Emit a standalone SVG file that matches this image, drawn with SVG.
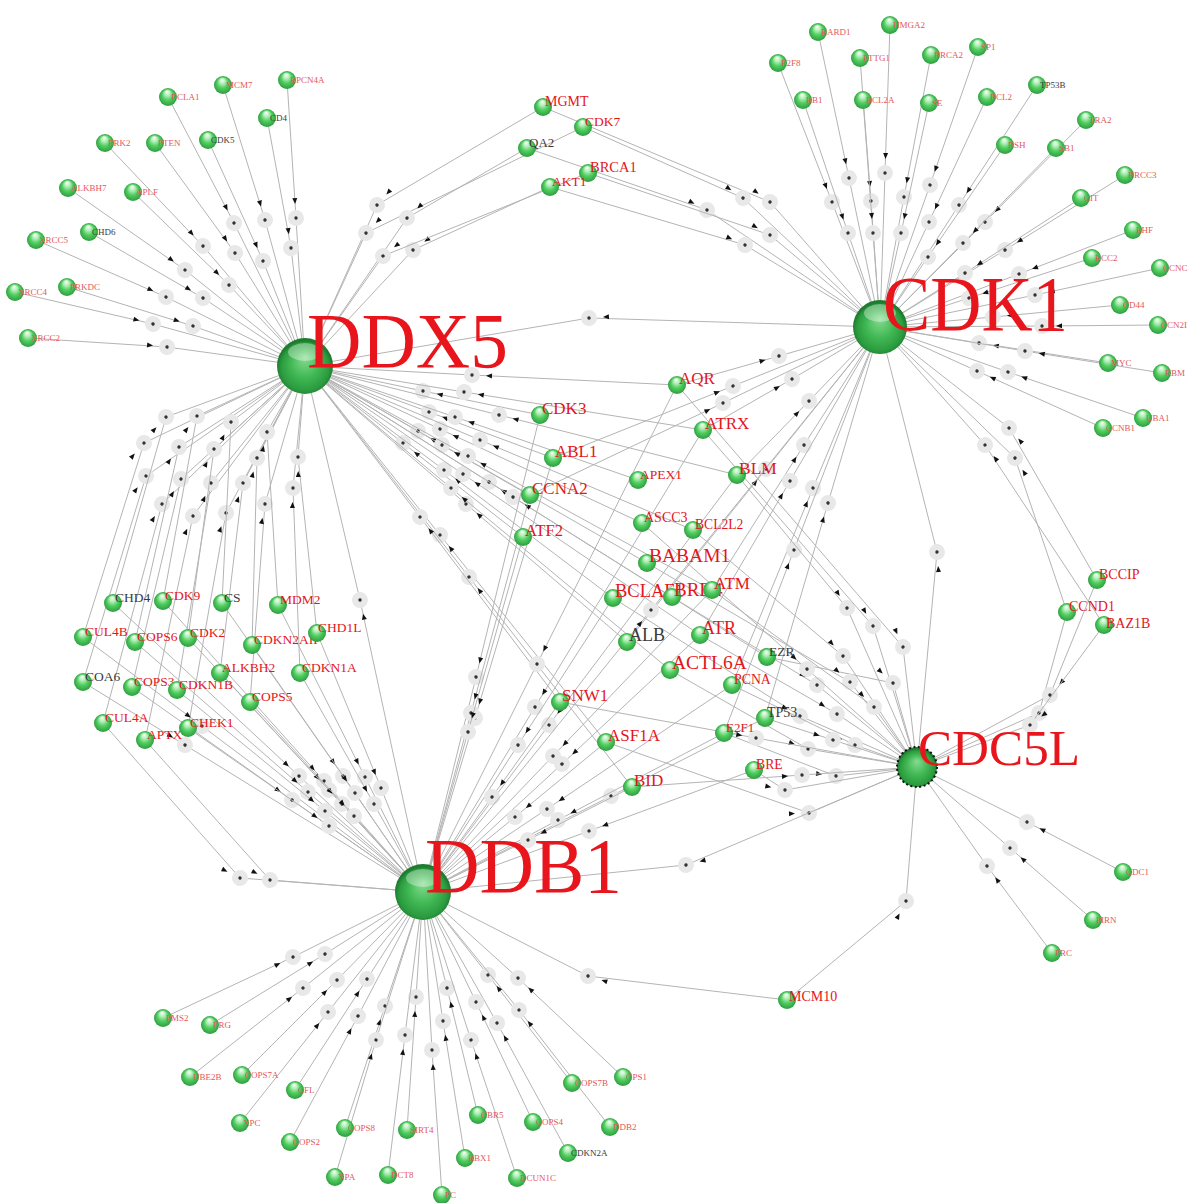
<svg xmlns="http://www.w3.org/2000/svg" width="1188" height="1203" viewBox="0 0 1188 1203">
<style>
.e{fill:none;stroke:#b4b4b4;stroke-width:1;marker-mid:url(#mk)}
.s{fill:url(#gs)}
.h{fill:url(#gh)}
.lm{font-family:"Liberation Serif",serif;fill:#e3161c}
.lp{font-family:"Liberation Serif",serif;font-size:9px;fill:#e4575a}
.dk{fill:#3a3a3a}
.hl{font-family:"Liberation Serif",serif;fill:#e8161c}
</style>
<defs>
<radialGradient id="gs" cx="0.5" cy="0.5" r="0.5" fx="0.45" fy="0.18">
<stop offset="0" stop-color="#ffffff"/>
<stop offset="0.3" stop-color="#b4efba"/>
<stop offset="0.6" stop-color="#52cf61"/>
<stop offset="1" stop-color="#2e9e40"/>
</radialGradient>
<radialGradient id="gh" cx="0.5" cy="0.55" r="0.5" fx="0.5" fy="0.35">
<stop offset="0" stop-color="#86dc90"/>
<stop offset="0.5" stop-color="#42b955"/>
<stop offset="0.85" stop-color="#2b9b3f"/>
<stop offset="1" stop-color="#1d7d2f"/>
</radialGradient>
<!-- reaction point: grey halo with centre dot, arrowhead just before it -->
<marker id="mk" markerUnits="userSpaceOnUse" markerWidth="40" markerHeight="20" refX="30" refY="10" orient="auto">
<circle cx="30" cy="10" r="8" fill="#e8e8e8"/>
<circle cx="30" cy="10" r="1.7" fill="#333"/>
<path d="M10,7.5 L16,10 L10,12.5 Z" fill="#111"/>
</marker>
</defs>
<rect width="1188" height="1203" fill="#ffffff"/>

<g id="connectors">
<!-- DDX5 outer fan -->
<path class="e" d="M168 97 L234 223 L305 366"/>
<path class="e" d="M223 85 L265 220 L305 366"/>
<path class="e" d="M287 80 L296 218 L305 366"/>
<path class="e" d="M267 118 L291 248 L305 366"/>
<path class="e" d="M105 143 L203 246 L305 366"/>
<path class="e" d="M155 143 L235 253 L305 366"/>
<path class="e" d="M208 140 L263 261 L305 366"/>
<path class="e" d="M68 188 L185 270 L305 366"/>
<path class="e" d="M133 192 L229 285 L305 366"/>
<path class="e" d="M89 232 L203 298 L305 366"/>
<path class="e" d="M36 240 L166 297 L305 366"/>
<path class="e" d="M15 292 L153 324 L305 366"/>
<path class="e" d="M67 287 L193 326 L305 366"/>
<path class="e" d="M28 338 L167 347 L305 366"/>
<!-- left cluster to DDX5 -->
<path class="e" d="M83 637 L144 443 L305 366"/>
<path class="e" d="M83 682 L146 476 L305 366"/>
<path class="e" d="M103 723 L162 504 L305 366"/>
<path class="e" d="M113 603 L166 417 L305 366"/>
<path class="e" d="M135 642 L179 447 L305 366"/>
<path class="e" d="M132 687 L181 479 L305 366"/>
<path class="e" d="M145 740 L193 516 L305 366"/>
<path class="e" d="M163 601 L197 416 L305 366"/>
<path class="e" d="M177 690 L211 483 L305 366"/>
<path class="e" d="M188 638 L214 449 L305 366"/>
<path class="e" d="M188 728 L226 513 L305 366"/>
<path class="e" d="M222 603 L231 422 L305 366"/>
<path class="e" d="M220 673 L243 483 L305 366"/>
<path class="e" d="M250 702 L265 504 L305 366"/>
<path class="e" d="M252 645 L257 458 L305 366"/>
<path class="e" d="M278 605 L267 432 L305 366"/>
<path class="e" d="M300 673 L293 488 L305 366"/>
<path class="e" d="M317 633 L298 457 L305 366"/>
<!-- left cluster to DDB1 -->
<path class="e" d="M113 603 L299 776 L423 892"/>
<path class="e" d="M163 601 L324 781 L423 892"/>
<path class="e" d="M222 603 L343 776 L423 892"/>
<path class="e" d="M278 605 L365 777 L423 892"/>
<path class="e" d="M83 637 L202 726 L423 892"/>
<path class="e" d="M135 642 L308 792 L423 892"/>
<path class="e" d="M188 638 L329 790 L423 892"/>
<path class="e" d="M252 645 L355 793 L423 892"/>
<path class="e" d="M317 633 L381 788 L423 892"/>
<path class="e" d="M83 682 L185 745 L423 892"/>
<path class="e" d="M132 687 L292 800 L423 892"/>
<path class="e" d="M177 690 L325 811 L423 892"/>
<path class="e" d="M220 673 L342 804 L423 892"/>
<path class="e" d="M300 673 L374 804 L423 892"/>
<path class="e" d="M250 702 L354 816 L423 892"/>
<path class="e" d="M103 723 L240 878 L423 892"/>
<path class="e" d="M145 740 L270 880 L423 892"/>
<path class="e" d="M188 728 L329 826 L423 892"/>
<!-- DDB1 outer fan -->
<path class="e" d="M163 1018 L293 957 L423 892"/>
<path class="e" d="M210 1025 L325 954 L423 892"/>
<path class="e" d="M190 1077 L303 988 L423 892"/>
<path class="e" d="M242 1075 L337 980 L423 892"/>
<path class="e" d="M240 1123 L328 1012 L423 892"/>
<path class="e" d="M295 1090 L367 979 L423 892"/>
<path class="e" d="M290 1142 L358 1016 L423 892"/>
<path class="e" d="M345 1128 L385 1006 L423 892"/>
<path class="e" d="M335 1177 L376 1040 L423 892"/>
<path class="e" d="M407 1130 L416 997 L423 892"/>
<path class="e" d="M388 1175 L405 1035 L423 892"/>
<path class="e" d="M442 1195 L432 1050 L423 892"/>
<path class="e" d="M478 1115 L447 988 L423 892"/>
<path class="e" d="M465 1158 L443 1021 L423 892"/>
<path class="e" d="M568 1153 L497 1023 L423 892"/>
<path class="e" d="M517 1178 L471 1040 L423 892"/>
<path class="e" d="M533 1122 L476 1002 L423 892"/>
<path class="e" d="M572 1083 L488 975 L423 892"/>
<path class="e" d="M623 1077 L518 978 L423 892"/>
<path class="e" d="M610 1127 L519 1010 L423 892"/>
<path class="e" d="M787 1000 L588 976 L423 892"/>
<!-- CDC5L outer fan -->
<path class="e" d="M1123 872 L1027 822 L917 767"/>
<path class="e" d="M1093 920 L1010 848 L917 767"/>
<path class="e" d="M1052 953 L987 866 L917 767"/>
<path class="e" d="M787 1000 L906 901 L917 767"/>
<!-- CDK1 outer fan -->
<path class="e" d="M818 32 L849 178 L880 327"/>
<path class="e" d="M890 25 L885 173 L880 327"/>
<path class="e" d="M778 63 L832 202 L880 327"/>
<path class="e" d="M860 58 L871 201 L880 327"/>
<path class="e" d="M931 55 L904 197 L880 327"/>
<path class="e" d="M978 47 L930 185 L880 327"/>
<path class="e" d="M803 100 L848 233 L880 327"/>
<path class="e" d="M863 100 L873 233 L880 327"/>
<path class="e" d="M929 103 L901 233 L880 327"/>
<path class="e" d="M987 97 L929 222 L880 327"/>
<path class="e" d="M1037 85 L959 205 L880 327"/>
<path class="e" d="M1086 120 L985 222 L880 327"/>
<path class="e" d="M1005 145 L928 257 L880 327"/>
<path class="e" d="M1056 148 L963 243 L880 327"/>
<path class="e" d="M1125 175 L1005 250 L880 327"/>
<path class="e" d="M1081 198 L965 273 L880 327"/>
<path class="e" d="M1133 230 L1019 274 L880 327"/>
<path class="e" d="M1092 258 L969 298 L880 327"/>
<path class="e" d="M1160 268 L1035 295 L880 327"/>
<path class="e" d="M1120 305 L993 317 L880 327"/>
<path class="e" d="M1158 325 L1042 326 L880 327"/>
<path class="e" d="M1108 363 L979 343 L880 327"/>
<path class="e" d="M1162 373 L1025 351 L880 327"/>
<path class="e" d="M1143 418 L1008 372 L880 327"/>
<path class="e" d="M1103 428 L977 371 L880 327"/>
<!-- shared partners to DDX5 -->
<path class="e" d="M543 107 L377 205 L305 366"/>
<path class="e" d="M583 127 L366 233 L305 366"/>
<path class="e" d="M527 148 L407 218 L305 366"/>
<path class="e" d="M550 187 L413 250 L305 366"/>
<path class="e" d="M588 173 L383 256 L305 366"/>
<path class="e" d="M677 385 L472 375 L305 366"/>
<path class="e" d="M540 415 L423 391 L305 366"/>
<path class="e" d="M703 430 L464 392 L305 366"/>
<path class="e" d="M553 458 L429 412 L305 366"/>
<path class="e" d="M737 475 L499 415 L305 366"/>
<path class="e" d="M638 480 L455 417 L305 366"/>
<path class="e" d="M530 495 L418 431 L305 366"/>
<path class="e" d="M642 523 L440 429 L305 366"/>
<path class="e" d="M693 530 L480 440 L305 366"/>
<path class="e" d="M523 537 L403 443 L305 366"/>
<path class="e" d="M647 563 L442 445 L305 366"/>
<path class="e" d="M613 598 L444 470 L305 366"/>
<path class="e" d="M672 597 L489 482 L305 366"/>
<path class="e" d="M712 590 L468 456 L305 366"/>
<path class="e" d="M627 642 L466 504 L305 366"/>
<path class="e" d="M700 635 L463 474 L305 366"/>
<path class="e" d="M767 657 L513 497 L305 366"/>
<path class="e" d="M670 670 L451 488 L305 366"/>
<path class="e" d="M606 742 L440 535 L305 366"/>
<path class="e" d="M632 787 L469 577 L305 366"/>
<path class="e" d="M560 702 L420 517 L305 366"/>
<!-- shared partners to CDK1 -->
<path class="e" d="M543 107 L770 202 L880 327"/>
<path class="e" d="M583 127 L743 198 L880 327"/>
<path class="e" d="M527 148 L707 210 L880 327"/>
<path class="e" d="M588 173 L770 235 L880 327"/>
<path class="e" d="M550 187 L745 245 L880 327"/>
<path class="e" d="M677 385 L779 356 L880 327"/>
<path class="e" d="M703 430 L792 379 L880 327"/>
<path class="e" d="M553 458 L733 386 L880 327"/>
<path class="e" d="M737 475 L809 401 L880 327"/>
<path class="e" d="M530 495 L723 403 L880 327"/>
<path class="e" d="M712 590 L804 445 L880 327"/>
<path class="e" d="M627 642 L766 469 L880 327"/>
<path class="e" d="M700 635 L790 481 L880 327"/>
<path class="e" d="M732 685 L813 488 L880 327"/>
<path class="e" d="M765 718 L828 503 L880 327"/>
<path class="e" d="M724 733 L794 550 L880 327"/>
<path class="e" d="M1067 612 L1015 458 L880 327"/>
<path class="e" d="M1097 580 L1009 428 L880 327"/>
<path class="e" d="M1104 625 L985 445 L880 327"/>
<!-- shared partners to DDB1 -->
<path class="e" d="M677 385 L537 664 L423 892"/>
<path class="e" d="M540 415 L476 677 L423 892"/>
<path class="e" d="M703 430 L535 707 L423 892"/>
<path class="e" d="M553 458 L475 718 L423 892"/>
<path class="e" d="M737 475 L549 725 L423 892"/>
<path class="e" d="M530 495 L471 713 L423 892"/>
<path class="e" d="M523 537 L468 732 L423 892"/>
<path class="e" d="M613 598 L518 745 L423 892"/>
<path class="e" d="M712 590 L553 756 L423 892"/>
<path class="e" d="M700 635 L562 764 L423 892"/>
<path class="e" d="M732 685 L547 809 L423 892"/>
<path class="e" d="M765 718 L611 796 L423 892"/>
<path class="e" d="M724 733 L558 820 L423 892"/>
<path class="e" d="M606 742 L515 817 L423 892"/>
<path class="e" d="M754 770 L589 831 L423 892"/>
<path class="e" d="M632 787 L528 840 L423 892"/>
<path class="e" d="M560 702 L492 797 L423 892"/>
<!-- shared partners to CDC5L -->
<path class="e" d="M737 475 L847 608 L917 767"/>
<path class="e" d="M703 430 L873 626 L917 767"/>
<path class="e" d="M677 385 L903 647 L917 767"/>
<path class="e" d="M693 530 L843 656 L917 767"/>
<path class="e" d="M767 657 L893 683 L917 767"/>
<path class="e" d="M647 563 L850 682 L917 767"/>
<path class="e" d="M712 590 L874 707 L917 767"/>
<path class="e" d="M672 597 L817 685 L917 767"/>
<path class="e" d="M700 635 L837 714 L917 767"/>
<path class="e" d="M613 598 L800 716 L917 767"/>
<path class="e" d="M732 685 L855 745 L917 767"/>
<path class="e" d="M670 670 L808 749 L917 767"/>
<path class="e" d="M724 733 L836 776 L917 767"/>
<path class="e" d="M765 718 L833 740 L917 767"/>
<path class="e" d="M754 770 L785 790 L917 767"/>
<path class="e" d="M606 742 L809 813 L917 767"/>
<path class="e" d="M632 787 L802 775 L917 767"/>
<path class="e" d="M560 702 L756 738 L917 767"/>
<path class="e" d="M642 523 L807 669 L917 767"/>
<path class="e" d="M1067 612 L1039 713 L917 767"/>
<path class="e" d="M1097 580 L1050 695 L917 767"/>
<path class="e" d="M1104 625 L1030 725 L917 767"/>
<!-- hub to hub -->
<path class="e" d="M880 327 L589 318 L305 366"/>
<path class="e" d="M917 767 L937 552 L880 327"/>
<path class="e" d="M917 767 L686 865 L423 892"/>
<path class="e" d="M423 892 L360 600 L305 366"/>
<path class="e" d="M423 892 L651 610 L880 327"/>
</g>

<g id="nodes">
<!-- DDX5 outer partners -->
<g id="n-BCLA1"><circle class="s" cx="168" cy="97" r="9"/><text class="lp" x="171" y="100">BCLA1</text></g>
<g id="n-MCM7"><circle class="s" cx="223" cy="85" r="9"/><text class="lp" x="226" y="88">MCM7</text></g>
<g id="n-RPCN4A"><circle class="s" cx="287" cy="80" r="9"/><text class="lp" x="290" y="83">RPCN4A</text></g>
<g id="n-CD4"><circle class="s" cx="267" cy="118" r="9"/><text class="lp dk" x="270" y="121">CD4</text></g>
<g id="n-ERK2"><circle class="s" cx="105" cy="143" r="9"/><text class="lp" x="108" y="146">ERK2</text></g>
<g id="n-PTEN"><circle class="s" cx="155" cy="143" r="9"/><text class="lp" x="158" y="146">PTEN</text></g>
<g id="n-CDK5"><circle class="s" cx="208" cy="140" r="9"/><text class="lp dk" x="211" y="143">CDK5</text></g>
<g id="n-ALKBH7"><circle class="s" cx="68" cy="188" r="9"/><text class="lp" x="71" y="191">ALKBH7</text></g>
<g id="n-APLF"><circle class="s" cx="133" cy="192" r="9"/><text class="lp" x="136" y="195">APLF</text></g>
<g id="n-CHD6"><circle class="s" cx="89" cy="232" r="9"/><text class="lp dk" x="92" y="235">CHD6</text></g>
<g id="n-XRCC5"><circle class="s" cx="36" cy="240" r="9"/><text class="lp" x="39" y="243">XRCC5</text></g>
<g id="n-XRCC4"><circle class="s" cx="15" cy="292" r="9"/><text class="lp" x="18" y="295">XRCC4</text></g>
<g id="n-PRKDC"><circle class="s" cx="67" cy="287" r="9"/><text class="lp" x="70" y="290">PRKDC</text></g>
<g id="n-XRCC2"><circle class="s" cx="28" cy="338" r="9"/><text class="lp" x="31" y="341">XRCC2</text></g>
<!-- upper shared partners -->
<g id="n-MGMT"><circle class="s" cx="543" cy="107" r="9"/><text class="lm" x="545" y="106" font-size="14">MGMT</text></g>
<g id="n-CDK7"><circle class="s" cx="583" cy="127" r="9"/><text class="lm" x="585" y="126" font-size="13.5">CDK7</text></g>
<g id="n-QA2"><circle class="s" cx="527" cy="148" r="9"/><text class="lm dk" x="529" y="147" font-size="13">QA2</text></g>
<g id="n-BRCA1"><circle class="s" cx="588" cy="173" r="9"/><text class="lm" x="590" y="172" font-size="14.5">BRCA1</text></g>
<g id="n-AKT1"><circle class="s" cx="550" cy="187" r="9"/><text class="lm" x="552" y="186" font-size="13.5">AKT1</text></g>
<!-- CDK1 outer partners -->
<g id="n-BARD1"><circle class="s" cx="818" cy="32" r="9"/><text class="lp" x="821" y="35">BARD1</text></g>
<g id="n-HMGA2"><circle class="s" cx="890" cy="25" r="9"/><text class="lp" x="893" y="28">HMGA2</text></g>
<g id="n-E2F8"><circle class="s" cx="778" cy="63" r="9"/><text class="lp" x="781" y="66">E2F8</text></g>
<g id="n-PTTG1"><circle class="s" cx="860" cy="58" r="9"/><text class="lp" x="863" y="61">PTTG1</text></g>
<g id="n-BRCA2"><circle class="s" cx="931" cy="55" r="9"/><text class="lp" x="934" y="58">BRCA2</text></g>
<g id="n-SP1"><circle class="s" cx="978" cy="47" r="9"/><text class="lp" x="981" y="50">SP1</text></g>
<g id="n-RB1"><circle class="s" cx="803" cy="100" r="9"/><text class="lp" x="806" y="103">RB1</text></g>
<g id="n-BCL2A"><circle class="s" cx="863" cy="100" r="9"/><text class="lp" x="866" y="103">BCL2A</text></g>
<g id="n-SE"><circle class="s" cx="929" cy="103" r="9"/><text class="lp" x="932" y="106">SE</text></g>
<g id="n-BCL2"><circle class="s" cx="987" cy="97" r="9"/><text class="lp" x="990" y="100">BCL2</text></g>
<g id="n-TP53B"><circle class="s" cx="1037" cy="85" r="9"/><text class="lp dk" x="1040" y="88">TP53B</text></g>
<g id="n-TRA2"><circle class="s" cx="1086" cy="120" r="9"/><text class="lp" x="1089" y="123">TRA2</text></g>
<g id="n-BSH"><circle class="s" cx="1005" cy="145" r="9"/><text class="lp" x="1008" y="148">BSH</text></g>
<g id="n-SB1"><circle class="s" cx="1056" cy="148" r="9"/><text class="lp" x="1059" y="151">SB1</text></g>
<g id="n-BRCC3"><circle class="s" cx="1125" cy="175" r="9"/><text class="lp" x="1128" y="178">BRCC3</text></g>
<g id="n-CIT"><circle class="s" cx="1081" cy="198" r="9"/><text class="lp" x="1084" y="201">CIT</text></g>
<g id="n-EHF"><circle class="s" cx="1133" cy="230" r="9"/><text class="lp" x="1136" y="233">EHF</text></g>
<g id="n-RCC2"><circle class="s" cx="1092" cy="258" r="9"/><text class="lp" x="1095" y="261">RCC2</text></g>
<g id="n-CCNC"><circle class="s" cx="1160" cy="268" r="9"/><text class="lp" x="1163" y="271" font-size="8.5">CCNC</text></g>
<g id="n-CD44"><circle class="s" cx="1120" cy="305" r="9"/><text class="lp" x="1123" y="308">CD44</text></g>
<g id="n-CCN2I"><circle class="s" cx="1158" cy="325" r="9"/><text class="lp" x="1161" y="328" font-size="8.5">CCN2I</text></g>
<g id="n-MYC"><circle class="s" cx="1108" cy="363" r="9"/><text class="lp" x="1111" y="366">MYC</text></g>
<g id="n-RBM"><circle class="s" cx="1162" cy="373" r="9"/><text class="lp" x="1165" y="376" font-size="8.5">RBM</text></g>
<g id="n-UBA1"><circle class="s" cx="1143" cy="418" r="9"/><text class="lp" x="1146" y="421">UBA1</text></g>
<g id="n-CCNB1"><circle class="s" cx="1103" cy="428" r="9"/><text class="lp" x="1106" y="431">CCNB1</text></g>
<!-- central shared partners -->
<g id="n-AQR"><circle class="s" cx="677" cy="385" r="9"/><text class="lm" x="679" y="384" font-size="17">AQR</text></g>
<g id="n-CDK3"><circle class="s" cx="540" cy="415" r="9"/><text class="lm" x="542" y="414" font-size="17">CDK3</text></g>
<g id="n-ATRX"><circle class="s" cx="703" cy="430" r="9"/><text class="lm" x="705" y="429" font-size="17">ATRX</text></g>
<g id="n-ABL1"><circle class="s" cx="553" cy="458" r="9"/><text class="lm" x="555" y="457" font-size="17">ABL1</text></g>
<g id="n-BLM"><circle class="s" cx="737" cy="475" r="9"/><text class="lm" x="739" y="474" font-size="17.5">BLM</text></g>
<g id="n-APEX1"><circle class="s" cx="638" cy="480" r="9"/><text class="lm" x="640" y="479" font-size="13.5">APEX1</text></g>
<g id="n-CCNA2"><circle class="s" cx="530" cy="495" r="9"/><text class="lm" x="532" y="494" font-size="17">CCNA2</text></g>
<g id="n-ASCC3"><circle class="s" cx="642" cy="523" r="9"/><text class="lm" x="644" y="522" font-size="14">ASCC3</text></g>
<g id="n-BCL2L2"><circle class="s" cx="693" cy="530" r="9"/><text class="lm" x="695" y="529" font-size="13.6">BCL2L2</text></g>
<g id="n-ATF2"><circle class="s" cx="523" cy="537" r="9"/><text class="lm" x="525" y="536" font-size="16.7">ATF2</text></g>
<g id="n-BABAM1"><circle class="s" cx="647" cy="563" r="9"/><text class="lm" x="649" y="562" font-size="19.5">BABAM1</text></g>
<g id="n-BCLAF1"><circle class="s" cx="613" cy="598" r="9"/><text class="lm" x="615" y="597" font-size="18.5">BCLAF1</text></g>
<g id="n-BRD4"><circle class="s" cx="672" cy="597" r="9"/><text class="lm" x="674" y="596" font-size="19">BRD4</text></g>
<g id="n-ATM"><circle class="s" cx="712" cy="590" r="9"/><text class="lm" x="714" y="589" font-size="17">ATM</text></g>
<g id="n-ALB"><circle class="s" cx="627" cy="642" r="9"/><text class="lm dk" x="629" y="641" font-size="18">ALB</text></g>
<g id="n-ATR"><circle class="s" cx="700" cy="635" r="9"/><text class="lm" x="702" y="634" font-size="18">ATR</text></g>
<g id="n-EZR"><circle class="s" cx="767" cy="657" r="9"/><text class="lm dk" x="769" y="656" font-size="13.5">EZR</text></g>
<g id="n-ACTL6A"><circle class="s" cx="670" cy="670" r="9"/><text class="lm" x="672" y="669" font-size="19.5">ACTL6A</text></g>
<g id="n-PCNA"><circle class="s" cx="732" cy="685" r="9"/><text class="lm" x="734" y="684" font-size="13.8">PCNA</text></g>
<g id="n-TP53"><circle class="s" cx="765" cy="718" r="9"/><text class="lm dk" x="767" y="717" font-size="14">TP53</text></g>
<g id="n-E2F1"><circle class="s" cx="724" cy="733" r="9"/><text class="lm" x="726" y="732" font-size="13">E2F1</text></g>
<g id="n-ASF1A"><circle class="s" cx="606" cy="742" r="9"/><text class="lm" x="608" y="741" font-size="17">ASF1A</text></g>
<g id="n-BRE"><circle class="s" cx="754" cy="770" r="9"/><text class="lm" x="756" y="769" font-size="13.7">BRE</text></g>
<g id="n-BID"><circle class="s" cx="632" cy="787" r="9"/><text class="lm" x="634" y="786" font-size="17">BID</text></g>
<g id="n-SNW1"><circle class="s" cx="560" cy="702" r="9"/><text class="lm" x="562" y="701" font-size="17">SNW1</text></g>
<g id="n-CCND1"><circle class="s" cx="1067" cy="612" r="9"/><text class="lm" x="1069" y="611" font-size="14">CCND1</text></g>
<g id="n-BCCIP"><circle class="s" cx="1097" cy="580" r="9"/><text class="lm" x="1099" y="579" font-size="14">BCCIP</text></g>
<g id="n-BAZ1B"><circle class="s" cx="1104" cy="625" r="9"/><text class="lm" x="1106" y="628" font-size="14">BAZ1B</text></g>
<g id="n-MCM10"><circle class="s" cx="787" cy="1000" r="9"/><text class="lm" x="789" y="1001" font-size="14">MCM10</text></g>
<!-- left cluster -->
<g id="n-CHD4"><circle class="s" cx="113" cy="603" r="9"/><text class="lm dk" x="115" y="602" font-size="13.5">CHD4</text></g>
<g id="n-CDK9"><circle class="s" cx="163" cy="601" r="9"/><text class="lm" x="165" y="600" font-size="13.5">CDK9</text></g>
<g id="n-CS"><circle class="s" cx="222" cy="603" r="9"/><text class="lm dk" x="224" y="602" font-size="13.5">CS</text></g>
<g id="n-MDM2"><circle class="s" cx="278" cy="605" r="9"/><text class="lm" x="280" y="604" font-size="13.5">MDM2</text></g>
<g id="n-CUL4B"><circle class="s" cx="83" cy="637" r="9"/><text class="lm" x="85" y="636" font-size="13.5">CUL4B</text></g>
<g id="n-COPS6"><circle class="s" cx="135" cy="642" r="9"/><text class="lm" x="137" y="641" font-size="13.5">COPS6</text></g>
<g id="n-CDK2"><circle class="s" cx="188" cy="638" r="9"/><text class="lm" x="190" y="637" font-size="13.5">CDK2</text></g>
<g id="n-CDKN2AIP"><circle class="s" cx="252" cy="645" r="9"/><text class="lm" x="254" y="644" font-size="13.5">CDKN2AIP</text></g>
<g id="n-CHD1L"><circle class="s" cx="317" cy="633" r="9"/><text class="lm" x="318" y="632" font-size="13.5">CHD1L</text></g>
<g id="n-COA6"><circle class="s" cx="83" cy="682" r="9"/><text class="lm dk" x="85" y="681" font-size="13.5">COA6</text></g>
<g id="n-COPS3"><circle class="s" cx="132" cy="687" r="9"/><text class="lm" x="134" y="686" font-size="13.5">COPS3</text></g>
<g id="n-CDKN1B"><circle class="s" cx="177" cy="690" r="9"/><text class="lm" x="179" y="689" font-size="13.5">CDKN1B</text></g>
<g id="n-ALKBH2"><circle class="s" cx="220" cy="673" r="9"/><text class="lm" x="222" y="672" font-size="13.5">ALKBH2</text></g>
<g id="n-CDKN1A"><circle class="s" cx="300" cy="673" r="9"/><text class="lm" x="302" y="672" font-size="13.5">CDKN1A</text></g>
<g id="n-COPS5"><circle class="s" cx="250" cy="702" r="9"/><text class="lm" x="252" y="701" font-size="13.5">COPS5</text></g>
<g id="n-CUL4A"><circle class="s" cx="103" cy="723" r="9"/><text class="lm" x="105" y="722" font-size="13.5">CUL4A</text></g>
<g id="n-APTX"><circle class="s" cx="145" cy="740" r="9"/><text class="lm" x="147" y="739" font-size="13.5">APTX</text></g>
<g id="n-CHEK1"><circle class="s" cx="188" cy="728" r="9"/><text class="lm" x="190" y="727" font-size="13.5">CHEK1</text></g>
<!-- DDB1 outer partners -->
<g id="n-PMS2"><circle class="s" cx="163" cy="1018" r="9"/><text class="lp" x="166" y="1021">PMS2</text></g>
<g id="n-ERG"><circle class="s" cx="210" cy="1025" r="9"/><text class="lp" x="213" y="1028">ERG</text></g>
<g id="n-UBE2B"><circle class="s" cx="190" cy="1077" r="9"/><text class="lp" x="193" y="1080">UBE2B</text></g>
<g id="n-COPS7A"><circle class="s" cx="242" cy="1075" r="9"/><text class="lp" x="245" y="1078">COPS7A</text></g>
<g id="n-XPC"><circle class="s" cx="240" cy="1123" r="9"/><text class="lp" x="243" y="1126">XPC</text></g>
<g id="n-CFL"><circle class="s" cx="295" cy="1090" r="9"/><text class="lp" x="298" y="1093">CFL</text></g>
<g id="n-COPS2"><circle class="s" cx="290" cy="1142" r="9"/><text class="lp" x="293" y="1145">COPS2</text></g>
<g id="n-COPS8"><circle class="s" cx="345" cy="1128" r="9"/><text class="lp" x="348" y="1131">COPS8</text></g>
<g id="n-XPA"><circle class="s" cx="335" cy="1177" r="9"/><text class="lp" x="338" y="1180">XPA</text></g>
<g id="n-SIRT4"><circle class="s" cx="407" cy="1130" r="9"/><text class="lp" x="410" y="1133">SIRT4</text></g>
<g id="n-DCT8"><circle class="s" cx="388" cy="1175" r="9"/><text class="lp" x="391" y="1178">DCT8</text></g>
<g id="n-PC"><circle class="s" cx="442" cy="1195" r="9"/><text class="lp" x="445" y="1198">PC</text></g>
<g id="n-CBR5"><circle class="s" cx="478" cy="1115" r="9"/><text class="lp" x="481" y="1118">CBR5</text></g>
<g id="n-RBX1"><circle class="s" cx="465" cy="1158" r="9"/><text class="lp" x="468" y="1161">RBX1</text></g>
<g id="n-CDKN2A"><circle class="s" cx="568" cy="1153" r="9"/><text class="lp dk" x="571" y="1156">CDKN2A</text></g>
<g id="n-DCUN1C"><circle class="s" cx="517" cy="1178" r="9"/><text class="lp" x="520" y="1181">DCUN1C</text></g>
<g id="n-COPS4"><circle class="s" cx="533" cy="1122" r="9"/><text class="lp" x="536" y="1125">COPS4</text></g>
<g id="n-COPS7B"><circle class="s" cx="572" cy="1083" r="9"/><text class="lp" x="575" y="1086">COPS7B</text></g>
<g id="n-GPS1"><circle class="s" cx="623" cy="1077" r="9"/><text class="lp" x="626" y="1080">GPS1</text></g>
<g id="n-DDB2"><circle class="s" cx="610" cy="1127" r="9"/><text class="lp" x="613" y="1130">DDB2</text></g>
<!-- CDC5L outer partners -->
<g id="n-CDC1"><circle class="s" cx="1123" cy="872" r="9"/><text class="lp" x="1126" y="875">CDC1</text></g>
<g id="n-PIRN"><circle class="s" cx="1093" cy="920" r="9"/><text class="lp" x="1096" y="923">PIRN</text></g>
<g id="n-PRC"><circle class="s" cx="1052" cy="953" r="9"/><text class="lp" x="1055" y="956">PRC</text></g>
<!-- hubs -->
<g id="n-DDX5"><circle class="h" cx="305" cy="366" r="28"/><ellipse cx="305" cy="352" rx="17" ry="9" fill="#ffffff" opacity="0.35"/><text class="hl" x="307" y="367" font-size="79" textLength="201" lengthAdjust="spacingAndGlyphs">DDX5</text></g>
<g id="n-CDK1"><circle class="h" cx="880" cy="327" r="27"/><ellipse cx="880" cy="313" rx="16" ry="9" fill="#ffffff" opacity="0.35"/><text class="hl" x="883" y="330" font-size="78" textLength="185" lengthAdjust="spacingAndGlyphs">CDK1</text></g>
<g id="n-DDB1"><circle class="h" cx="423" cy="892" r="28"/><ellipse cx="423" cy="878" rx="17" ry="9" fill="#ffffff" opacity="0.35"/><text class="hl" x="425" y="892" font-size="78" textLength="197" lengthAdjust="spacingAndGlyphs">DDB1</text></g>
<g id="n-CDC5L"><circle class="h" cx="917" cy="767" r="20"/><circle cx="917" cy="767" r="20" fill="none" stroke="#111" stroke-width="2" stroke-dasharray="2 2.5"/><text class="hl" x="918" y="765" font-size="50" textLength="162" lengthAdjust="spacingAndGlyphs">CDC5L</text></g>
</g>
</svg>
